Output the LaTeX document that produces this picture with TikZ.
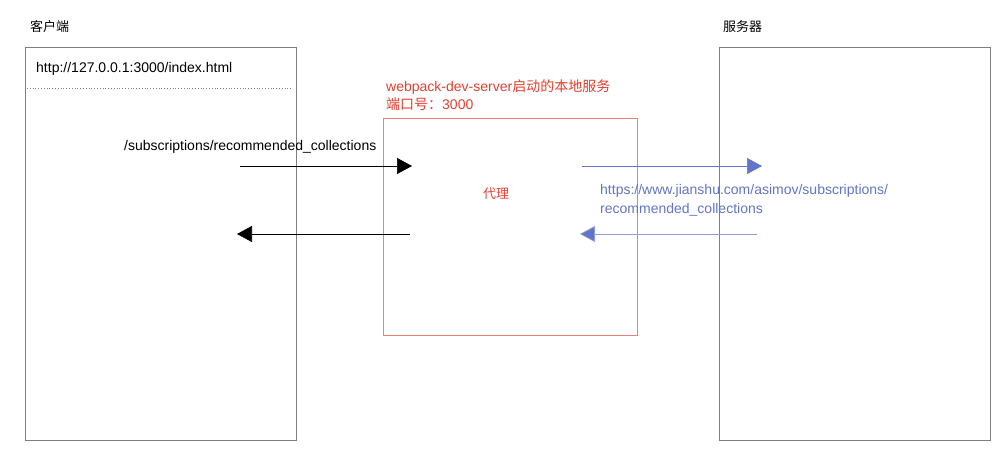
\documentclass[tikz,border=0pt]{standalone}
\usepackage{fontspec}
\setmainfont{Liberation Sans}
\newfontfamily\cjk{Noto Sans CJK SC}
\usetikzlibrary{arrows.meta}
\definecolor{proxyred}{HTML}{E0402F}
\definecolor{proxyline}{HTML}{EE8078}
\definecolor{remoteblue}{HTML}{6275C6}
\definecolor{boxgray}{HTML}{7F7F7F}
\tikzstyle{side} = [draw=boxgray, line width=0.8pt, anchor=north west, inner sep=0]
\tikzstyle{proxybox} = [anchor=north west, inner sep=0]
\tikzstyle{lbl} = [anchor=west, inner sep=0, font=\fontsize{14}{18}\selectfont]
\tikzstyle{title} = [anchor=west, inner sep=0, font=\fontsize{13}{17}\selectfont\cjk]
\tikzstyle{req} = [-{Triangle[length=15pt,width=16pt]}, line width=0.7pt]

\begin{document}
\begin{tikzpicture}[x=1pt,y=-1pt]
  \useasboundingbox (0,0) rectangle (1006,449);
  \node (client) at (25,47) [side, minimum width=271pt, minimum height=393pt] {};
  \node (server) at (719,47) [side, minimum width=271pt, minimum height=393pt] {};
  \node (box) at (383,119) [proxybox, minimum width=254pt, minimum height=216pt] {};
  \draw [proxyline, line width=1pt] (box.north west) rectangle (box.south east);

  \node (ct) at (30,27) [title] {客户端};
  \node (st) at (723,27) [title] {服务器};
  \node (url) at (36,69) [lbl] {http://127.0.0.1:3000/index.html};
  \draw [boxgray, dotted, line width=0.8pt] (27,88) -- (292,88);

  \node (pt1) at (386,87) [lbl, text=proxyred] {webpack-dev-server{\cjk 启动的本地服务}};
  \node (pt2) at (386,104) [lbl, text=proxyred] {{\cjk 端口号：}3000};
  \node (pname) at (496,194) [title, anchor=center, text=proxyred] {代理};

  \node (path) at (124,147) [lbl] {/subscriptions/recommended\_collections};
  \node (remote) at (600,191) [lbl, text=remoteblue] {https://www.jianshu.com/asimov/subscriptions/};
  \node (remote2) at (600,210) [lbl, text=remoteblue] {recommended\_collections};

  \coordinate (a1) at (240,166);
  \coordinate (a2) at (412,166);
  \coordinate (b1) at (410,234);
  \coordinate (b2) at (237,234);
  \coordinate (c1) at (582,166);
  \coordinate (c2) at (762,166);
  \coordinate (d1) at (757,234);
  \coordinate (d2) at (580,234);

  \draw [req] (a1) -- (a2);
  \draw [req] (b1) -- (b2);
  \draw [req, remoteblue] (c1) -- (c2);
  \draw [req, remoteblue!70, -{Triangle[length=15pt,width=16pt,fill=remoteblue]}] (d1) -- (d2);
\end{tikzpicture}
\end{document}
